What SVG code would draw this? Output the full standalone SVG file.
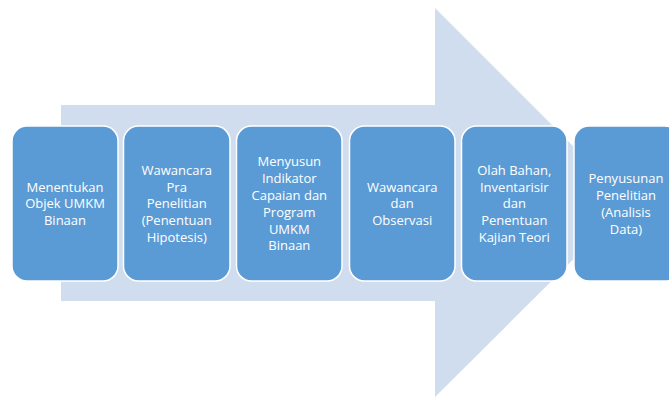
<svg xmlns="http://www.w3.org/2000/svg" width="669" height="399" viewBox="0 0 669 399">
<style>
.box{fill:#5B9BD5;stroke:#FFFFFF;stroke-width:1.5}
.t{font-family:"Open Sans","Liberation Sans",sans-serif;font-size:13px;fill:#FFFFFF;text-anchor:middle}
</style>
<rect width="669" height="399" fill="#FFFFFF"/>
<g id="arrow">
<polygon points="61,105 435,105 435,8 630,203 435,397 435,301 61,301" fill="#D0DDEE"/>
</g>
<g id="connectors"></g>
<g id="n1">
<rect class="box" x="12" y="126" width="106" height="155" rx="15"/>
<text class="t" x="65" y="191.5"><tspan x="65">Menentukan</tspan><tspan x="65" dy="16.8">Objek UMKM</tspan><tspan x="65" dy="16.8">Binaan</tspan></text>
</g>
<g id="n2">
<rect class="box" x="123.5" y="126" width="106.5" height="155" rx="15"/>
<text class="t" x="176.7" y="174.7"><tspan x="176.7">Wawancara</tspan><tspan x="176.7" dy="16.8">Pra</tspan><tspan x="176.7" dy="16.8">Penelitian</tspan><tspan x="176.7" dy="16.8">(Penentuan</tspan><tspan x="176.7" dy="16.8">Hipotesis)</tspan></text>
</g>
<g id="n3">
<rect class="box" x="236.5" y="126" width="105.5" height="155" rx="15"/>
<text class="t" x="289.3" y="166.3"><tspan x="289.3">Menyusun</tspan><tspan x="289.3" dy="16.8">Indikator</tspan><tspan x="289.3" dy="16.8">Capaian dan</tspan><tspan x="289.3" dy="16.8">Program</tspan><tspan x="289.3" dy="16.8">UMKM</tspan><tspan x="289.3" dy="16.8">Binaan</tspan></text>
</g>
<g id="n4">
<rect class="box" x="349.5" y="126" width="105.5" height="155" rx="15"/>
<text class="t" x="402.2" y="191.5"><tspan x="402.2">Wawancara</tspan><tspan x="402.2" dy="16.8">dan</tspan><tspan x="402.2" dy="16.8">Observasi</tspan></text>
</g>
<g id="n5">
<rect class="box" x="461.5" y="126" width="105.5" height="155" rx="15"/>
<text class="t" x="514.3" y="174.7"><tspan x="514.3">Olah Bahan,</tspan><tspan x="514.3" dy="16.8">Inventarisir</tspan><tspan x="514.3" dy="16.8">dan</tspan><tspan x="514.3" dy="16.8">Penentuan</tspan><tspan x="514.3" dy="16.8">Kajian Teori</tspan></text>
</g>
<g id="n6">
<rect class="box" x="574" y="126" width="106" height="155" rx="15"/>
<text class="t" x="626" y="183.1"><tspan x="626">Penyusunan</tspan><tspan x="626" dy="16.8">Penelitian</tspan><tspan x="626" dy="16.8">(Analisis</tspan><tspan x="626" dy="16.8">Data)</tspan></text>
</g>
</svg>
